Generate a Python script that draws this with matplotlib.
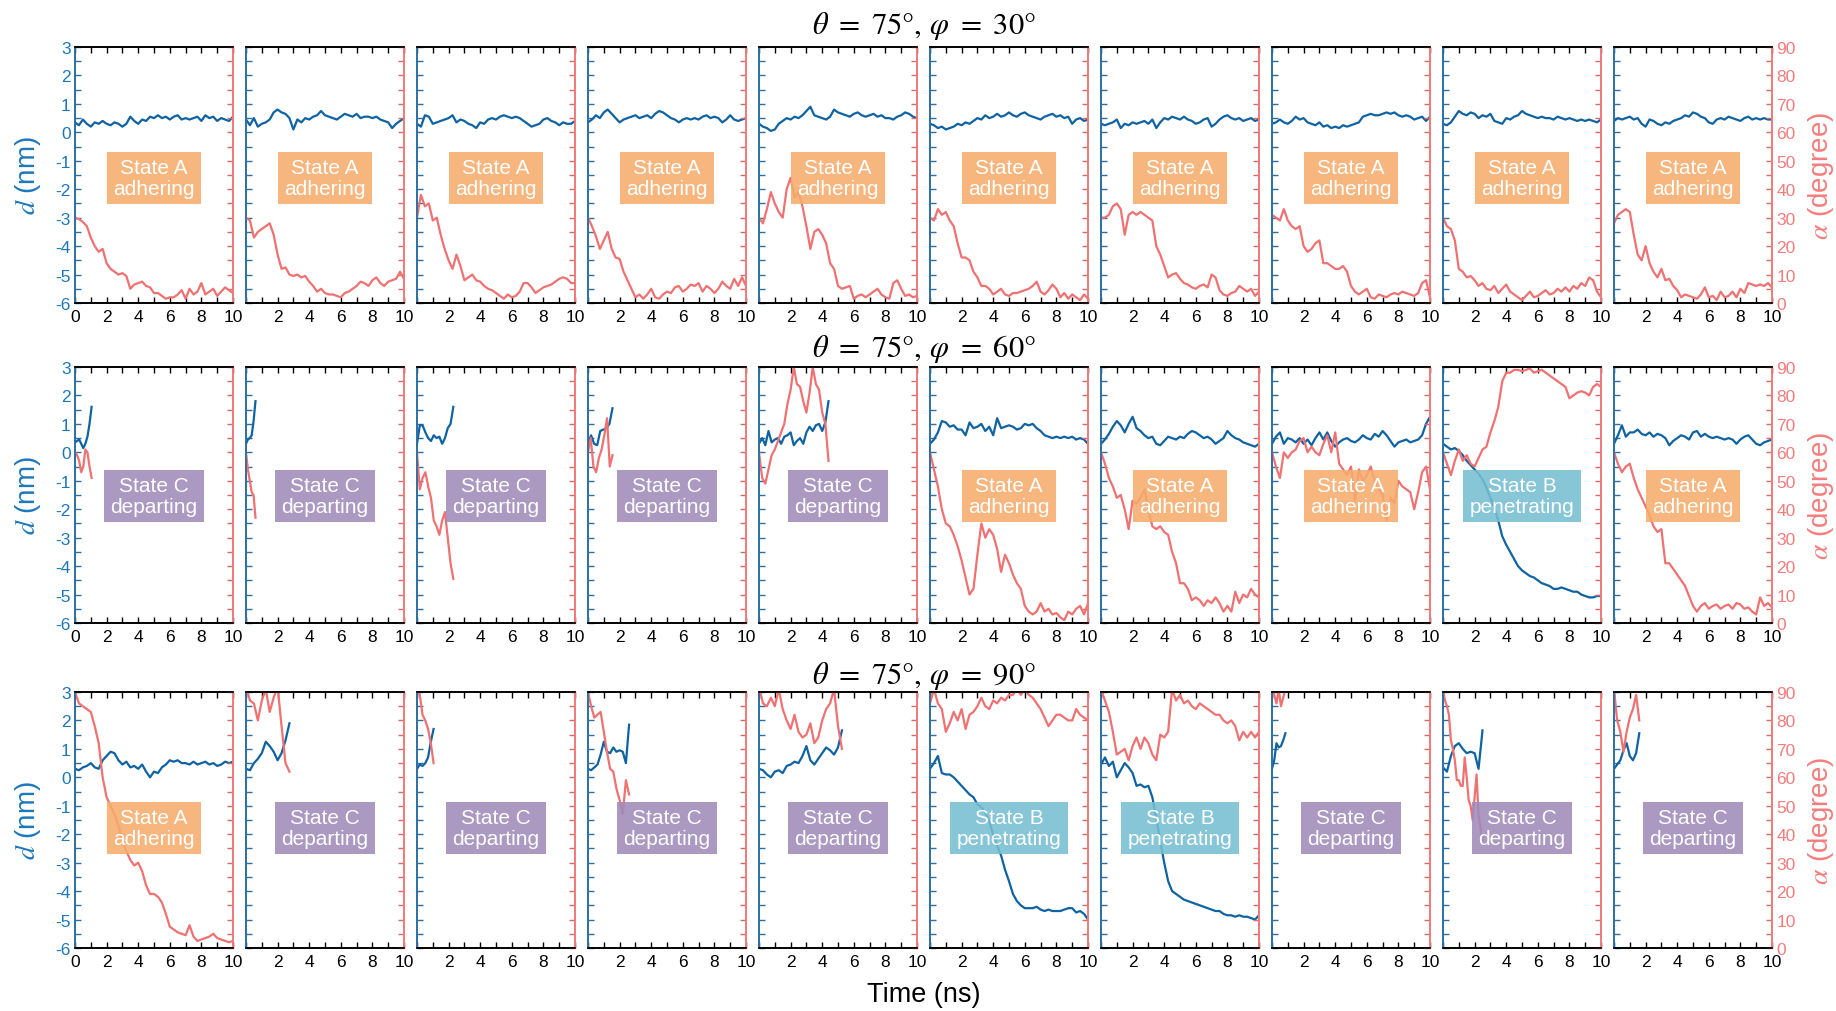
import numpy as np
import matplotlib.pyplot as plt
from matplotlib.ticker import MultipleLocator

plt.rcParams['font.family'] = ['Liberation Sans', 'DejaVu Sans']
plt.rcParams['mathtext.fontset'] = 'stix'
plt.rcParams['axes.unicode_minus'] = False

# ---------------- data ----------------
row_titles = [r'$\theta\ =\ 75°,\,\varphi\ =\ 30°$',
              r'$\theta\ =\ 75°,\,\varphi\ =\ 60°$',
              r'$\theta\ =\ 75°,\,\varphi\ =\ 90°$']

row1_state = ['A', 'A', 'A', 'A', 'A', 'A', 'A', 'A', 'A', 'A']
row2_state = ['C', 'C', 'C', 'C', 'C', 'A', 'A', 'A', 'B', 'A']
row3_state = ['A', 'C', 'C', 'C', 'C', 'B', 'B', 'C', 'C', 'C']

# simulation end time (ns) of each run
row1_tend = [10, 10, 10, 10, 10, 10, 10, 10, 10, 10]
row2_tend = [1.05, 0.6, 2.3, 1.55, 4.4, 10, 10, 10, 10, 10]
row3_tend = [10, 2.75, 1.05, 2.6, 5.25, 10, 10, 0.85, 2.5, 1.6]

# d (nm), evenly spaced over [0, tend]
row1_d = [
    [0.35, 0.25, 0.45, 0.3, 0.2, 0.35, 0.3, 0.4, 0.3, 0.25, 0.35, 0.3, 0.2, 0.3, 0.55, 0.4, 0.3, 0.45, 0.4, 0.55,
     0.5, 0.6, 0.5, 0.55, 0.45, 0.55, 0.6, 0.45, 0.5, 0.45, 0.5, 0.55, 0.4, 0.6, 0.5, 0.55, 0.4, 0.5, 0.45, 0.4, 0.55],
    [0.45, 0.25, 0.5, 0.2, 0.3, 0.35, 0.45, 0.7, 0.8, 0.7, 0.65, 0.5, 0.1, 0.45, 0.35, 0.5, 0.45, 0.55, 0.6, 0.75,
     0.6, 0.55, 0.5, 0.45, 0.55, 0.65, 0.6, 0.55, 0.65, 0.5, 0.55, 0.55, 0.5, 0.55, 0.45, 0.4, 0.35, 0.15, 0.3, 0.4, 0.5],
    [0.3, 0.2, 0.6, 0.55, 0.3, 0.35, 0.4, 0.45, 0.5, 0.6, 0.35, 0.45, 0.4, 0.3, 0.25, 0.15, 0.35, 0.3, 0.45, 0.5,
     0.45, 0.55, 0.6, 0.55, 0.5, 0.55, 0.5, 0.4, 0.3, 0.2, 0.25, 0.3, 0.45, 0.5, 0.4, 0.35, 0.25, 0.35, 0.3, 0.3, 0.4],
    [0.35, 0.45, 0.6, 0.5, 0.7, 0.8, 0.65, 0.5, 0.35, 0.45, 0.5, 0.55, 0.6, 0.5, 0.55, 0.6, 0.5, 0.65, 0.75, 0.7,
     0.6, 0.5, 0.45, 0.35, 0.45, 0.5, 0.45, 0.5, 0.45, 0.55, 0.6, 0.5, 0.55, 0.5, 0.35, 0.45, 0.6, 0.45, 0.4, 0.45, 0.5],
    [0.3, 0.2, 0.15, 0.05, 0.1, 0.3, 0.4, 0.5, 0.45, 0.55, 0.5, 0.6, 0.75, 0.9, 0.6, 0.55, 0.5, 0.45, 0.55, 0.8,
     0.7, 0.65, 0.6, 0.55, 0.65, 0.7, 0.6, 0.55, 0.6, 0.65, 0.55, 0.6, 0.5, 0.5, 0.45, 0.55, 0.6, 0.7, 0.65, 0.55, 0.5],
    [0.3, 0.25, 0.15, 0.2, 0.1, 0.15, 0.2, 0.3, 0.25, 0.35, 0.3, 0.4, 0.5, 0.45, 0.6, 0.5, 0.55, 0.65, 0.55, 0.6,
     0.7, 0.6, 0.55, 0.65, 0.7, 0.6, 0.55, 0.5, 0.45, 0.55, 0.6, 0.65, 0.55, 0.6, 0.5, 0.55, 0.3, 0.45, 0.5, 0.4, 0.45],
    [0.3, 0.25, 0.3, 0.35, 0.45, 0.15, 0.3, 0.25, 0.35, 0.3, 0.35, 0.4, 0.3, 0.45, 0.15, 0.35, 0.5, 0.45, 0.55, 0.5,
     0.45, 0.55, 0.45, 0.4, 0.3, 0.35, 0.45, 0.5, 0.2, 0.3, 0.45, 0.55, 0.6, 0.5, 0.45, 0.5, 0.4, 0.45, 0.5, 0.4, 0.45],
    [0.3, 0.35, 0.45, 0.35, 0.3, 0.4, 0.55, 0.45, 0.5, 0.35, 0.3, 0.25, 0.35, 0.2, 0.25, 0.15, 0.2, 0.15, 0.25, 0.2,
     0.25, 0.3, 0.35, 0.55, 0.6, 0.65, 0.6, 0.6, 0.65, 0.7, 0.65, 0.7, 0.6, 0.55, 0.6, 0.55, 0.45, 0.5, 0.55, 0.4, 0.55],
    [0.3, 0.25, 0.35, 0.55, 0.75, 0.65, 0.6, 0.7, 0.65, 0.5, 0.6, 0.55, 0.65, 0.4, 0.35, 0.3, 0.5, 0.45, 0.55, 0.6,
     0.75, 0.65, 0.6, 0.55, 0.5, 0.55, 0.5, 0.5, 0.45, 0.55, 0.5, 0.45, 0.5, 0.45, 0.4, 0.45, 0.4, 0.45, 0.4, 0.35, 0.45],
    [0.4, 0.5, 0.45, 0.5, 0.55, 0.45, 0.5, 0.3, 0.2, 0.45, 0.4, 0.3, 0.25, 0.35, 0.3, 0.4, 0.45, 0.5, 0.6, 0.55,
     0.7, 0.65, 0.55, 0.5, 0.35, 0.3, 0.45, 0.5, 0.45, 0.55, 0.5, 0.45, 0.4, 0.5, 0.55, 0.45, 0.5, 0.45, 0.5, 0.45, 0.45],
]
row2_d = [
    [0.35, 0.4, 0.45, 0.3, 0.15, 0.3, 0.55, 1.0, 1.6],
    [0.3, 0.45, 0.5, 0.6, 1.1, 1.8],
    [0.3, 0.95, 0.95, 0.7, 0.5, 0.4, 0.6, 0.5, 0.55, 0.3, 0.5, 0.85, 1.0, 1.6],
    [0.3, 0.6, 0.3, 0.25, 0.75, 0.8, 0.85, 1.0, 1.55],
    [0.3, 0.5, 0.25, 0.75, 0.35, 0.45, 0.5, 0.3, 0.55, 0.6, 0.7, 0.25, 0.4, 0.5, 0.3, 0.7, 0.9, 0.75, 0.95, 1.0,
     0.75, 1.05, 1.8],
    [0.3, 0.45, 0.7, 1.1, 1.05, 0.9, 0.95, 0.8, 0.8, 0.6, 1.05, 0.85, 0.9, 1.0, 0.75, 0.9, 0.6, 1.2, 0.85, 0.9,
     0.95, 0.9, 0.8, 0.85, 1.0, 0.95, 1.0, 0.85, 0.75, 0.6, 0.55, 0.5, 0.55, 0.5, 0.55, 0.5, 0.55, 0.45, 0.5, 0.45, 0.3],
    [0.3, 0.45, 0.65, 0.9, 1.1, 0.95, 0.7, 1.0, 1.25, 0.85, 0.75, 0.6, 0.5, 0.55, 0.3, 0.25, 0.4, 0.55, 0.5, 0.45,
     0.55, 0.5, 0.65, 0.75, 0.7, 0.6, 0.5, 0.55, 0.45, 0.3, 0.4, 0.5, 0.75, 0.6, 0.5, 0.45, 0.35, 0.3, 0.25, 0.2, 0.3],
    [0.3, 0.55, 0.7, 0.3, 0.5, 0.45, 0.35, 0.5, 0.3, 0.45, 0.25, 0.5, 0.7, 0.45, 0.7, 0.4, 0.2, 0.35, 0.45, 0.5,
     0.4, 0.35, 0.45, 0.6, 0.5, 0.45, 0.65, 0.55, 0.75, 0.6, 0.4, 0.2, 0.35, 0.4, 0.45, 0.35, 0.4, 0.45, 0.6, 1.0, 1.25],
    [0.3, 0.2, 0.1, 0.15, 0.05, -0.1, -0.3, -0.45, -0.6, -0.75, -0.95, -1.25, -1.6, -1.95, -2.4, -2.95, -3.25, -3.5,
     -3.75, -4.0, -4.15, -4.25, -4.35, -4.4, -4.5, -4.6, -4.65, -4.7, -4.8, -4.8, -4.75, -4.8, -4.85, -4.9, -4.9,
     -5.0, -5.05, -5.1, -5.1, -5.05, -5.05],
    [0.3, 0.6, 0.95, 0.55, 0.7, 0.7, 0.8, 0.65, 0.6, 0.7, 0.55, 0.65, 0.6, 0.5, 0.25, 0.4, 0.5, 0.6, 0.55, 0.45,
     0.7, 0.75, 0.55, 0.65, 0.55, 0.5, 0.55, 0.5, 0.45, 0.5, 0.45, 0.3, 0.45, 0.55, 0.6, 0.45, 0.3, 0.25, 0.35, 0.4, 0.45],
]
row3_d = [
    [0.3, 0.25, 0.35, 0.4, 0.5, 0.35, 0.3, 0.6, 0.75, 0.9, 0.85, 0.6, 0.45, 0.55, 0.35, 0.4, 0.3, 0.45, 0.2, 0.0,
     0.2, 0.15, 0.35, 0.45, 0.6, 0.55, 0.6, 0.5, 0.5, 0.45, 0.55, 0.45, 0.5, 0.55, 0.45, 0.5, 0.4, 0.45, 0.55, 0.5, 0.55],
    [0.3, 0.25, 0.5, 0.65, 0.85, 1.25, 1.1, 0.9, 0.6, 0.85, 1.3, 1.9],
    [0.3, 0.45, 0.4, 0.5, 0.7, 1.25, 1.7],
    [0.3, 0.25, 0.35, 0.45, 0.8, 1.25, 0.9, 0.85, 1.05, 0.9, 0.95, 0.9, 0.5, 1.85],
    [0.3, 0.25, 0.1, 0.0, 0.2, 0.25, 0.15, 0.4, 0.45, 0.55, 0.5, 0.75, 1.1, 0.6, 0.45, 0.65, 0.85, 1.05, 0.95, 0.8,
     1.05, 1.65],
    [0.3, 0.5, 0.75, 0.15, 0.1, 0.1, 0.0, -0.15, -0.3, -0.45, -0.6, -0.7, -0.95, -1.05, -1.25, -1.55, -2.0, -2.4,
     -2.75, -3.25, -3.65, -4.1, -4.35, -4.5, -4.6, -4.6, -4.6, -4.55, -4.65, -4.7, -4.65, -4.7, -4.7, -4.7, -4.65,
     -4.6, -4.6, -4.75, -4.7, -4.8, -5.0],
    [0.45, 0.7, 0.4, 0.55, 0.0, 0.25, 0.5, 0.35, 0.15, -0.3, -0.25, -0.35, -0.3, -0.7, -1.45, -2.25, -3.0, -3.65,
     -4.0, -4.1, -4.2, -4.3, -4.35, -4.4, -4.45, -4.5, -4.55, -4.6, -4.65, -4.7, -4.7, -4.8, -4.85, -4.85, -4.9,
     -4.85, -4.9, -4.9, -4.95, -5.0, -4.85],
    [0.3, 0.6, 1.2, 1.05, 1.1, 1.3, 1.55],
    [0.35, 0.2, 0.75, 1.1, 1.2, 1.0, 0.85, 0.9, 0.85, 0.3, 1.65],
    [0.3, 0.45, 0.6, 0.95, 1.2, 0.75, 0.6, 0.85, 1.55],
]

# alpha (degree), evenly spaced over [0, tend]
row1_a = [
    [30, 29.5, 28.5, 27, 23, 20, 18, 19, 14, 12, 11, 10, 10.5, 9.5, 5, 6.5, 7, 7.5, 6, 5.5,
     3.5, 3.5, 2.5, 1.5, 2, 2, 3, 4.5, 1.5, 5, 3, 4, 7, 3, 4, 5, 2.5, 4, 5.5, 4.5, 3.5],
    [30, 29, 23, 25, 26, 27, 28, 24, 17, 12, 12.5, 10, 9.5, 10, 9, 9.5, 7.5, 6, 4, 5,
     3.5, 3, 3, 2.5, 2, 3.5, 4, 5, 6, 7.5, 7, 6, 8, 9, 7, 6, 7.5, 8, 8.5, 11, 8.5],
    [30, 38, 34, 35, 29, 30, 24, 19, 15, 12, 17, 13, 8, 9, 10, 8, 7.5, 6, 5, 4.5,
     3.5, 2.5, 1.5, 3, 2, 2.5, 4, 7, 7, 5.5, 3.5, 4.5, 5.5, 6, 6.5, 7.5, 8.5, 9, 8.5, 7, 7],
    [30, 27, 23.5, 19, 22, 25, 19, 16, 15.5, 11, 8, 5, 2, 3, 1.5, 3, 5, 2, 1.5, 3,
     4, 3.5, 5.5, 6, 4, 5, 6.5, 6, 7, 4, 6, 5, 3.5, 5, 7.5, 6, 5, 8.5, 6, 9, 6],
    [30, 28, 33, 39, 35, 32, 30, 40, 44, 37, 39, 34, 27, 19, 25, 26, 24, 21, 14, 12,
     6, 5, 5.5, 6, 1.5, 2.5, 3, 2, 3, 4, 5, 3, 2, 1.5, 7, 8, 5, 2.5, 3, 2, 2.5],
    [30, 29, 33, 31, 32, 29, 27, 21, 16, 16, 15, 11, 9, 6, 6, 5, 3, 4, 5, 3,
     2.5, 3.5, 3.5, 4, 4.5, 5, 6, 7.5, 4, 3, 4.5, 6.5, 5, 2, 3.5, 1.5, 3, 2, 1, 3, 1.5],
    [30, 30, 31, 34, 35, 33, 24, 31, 32, 31, 32, 31, 30, 29, 20, 17, 13, 9, 10, 10.5,
     8.5, 7, 6.5, 5.5, 5, 6, 6.5, 5.5, 10, 9, 4.5, 3, 2.5, 3.5, 4, 6, 5, 4, 5, 2.5, 4],
    [31, 30, 29, 33, 29, 27, 26, 27, 20, 18, 19, 21, 22, 14, 14, 13, 12, 12, 13, 11,
     6, 4, 3, 4, 5, 2, 1.5, 3, 2.5, 2, 3, 3.5, 3, 4, 3.5, 3, 2.5, 3.5, 7, 8, 2],
    [30, 27, 26, 22, 12, 11, 9, 9.5, 8, 6, 7, 5, 4.5, 6, 3.5, 5, 6.5, 4, 3, 2,
     1, 2.5, 4, 2, 2.5, 3.5, 4.5, 3, 3.5, 5, 4, 5.5, 4, 6, 5, 7, 6, 9, 8, 4, 2],
    [28, 31, 32, 33, 32, 24, 17, 15, 20, 14, 11, 9, 12, 8, 8.5, 6, 4.5, 2, 3, 2.5,
     2, 1.5, 3, 5.5, 2, 2.5, 1, 4, 2, 2.5, 4, 2, 5, 3.5, 7, 6.5, 6, 6.5, 6, 7, 5.5],
]
row2_a = [
    [60, 59, 57, 53, 55, 61, 60, 55, 51],
    [60, 54, 50, 46, 45, 37],
    [60, 47, 51, 53, 48, 44, 36, 34, 31, 36, 39, 30, 21, 15.5],
    [60, 65, 55, 53, 58, 61, 66, 72, 55, 59],
    [60, 51, 49, 54, 59, 61, 64, 67, 70, 77, 82, 90, 84, 83, 78, 74, 81, 90, 84, 82, 74, 70, 57],
    [60, 54, 48, 40, 35, 34, 31, 27, 22, 16, 10, 12, 24, 35, 30, 33, 31, 26, 18, 24,
     21, 17, 14, 12, 6, 4, 3, 4, 7, 4, 5, 3, 3.5, 2, 1, 4, 3, 5, 6, 3, 7],
    [60, 56, 51, 48, 44, 45, 40, 33, 43, 42, 44, 47, 40, 34, 33, 34, 32, 31, 25, 21,
     14, 14, 12, 8, 9, 8, 6, 8, 7, 9, 7, 4, 6, 4, 11, 7, 10, 9, 12, 10, 9],
    [60, 55, 51, 60, 58, 60, 61, 64, 65, 60, 62, 60, 59, 63, 66, 60, 67, 56, 54, 52,
     55, 43, 54, 50, 52, 55, 50, 47, 45, 36, 44, 42, 50, 48, 47, 46, 40, 46, 53, 55, 47],
    [60, 56, 52, 57, 61, 57, 59, 56, 55, 58, 61, 62, 67, 71, 76, 85, 88, 88, 89, 89,
     88.5, 89, 89.5, 88, 88.5, 89, 88, 87, 86, 85, 84, 83, 79, 80, 81, 81.5, 81, 80, 83, 84, 83],
    [60, 56, 53, 55, 56, 51, 47, 44, 41, 38, 34, 32, 33, 21, 21, 19, 17, 15, 13, 9.5,
     6, 4, 6, 7, 5, 6, 6.5, 5, 6, 6.5, 5, 7, 6.5, 5, 5.5, 4, 3, 9, 6, 7, 5.5],
]
row3_a = [
    [90, 86, 85, 84, 83, 78, 72, 60, 53, 50, 47, 43, 38, 34, 31, 29, 30, 27, 22, 19,
     19, 18, 16, 12, 7.5, 6.5, 5.5, 5, 4.5, 8, 4, 2.5, 3, 3.5, 4, 5, 3.5, 3, 2.5, 2, 2.5],
    [92, 87, 86, 80, 87, 91, 83, 88, 92, 78, 65, 62],
    [91, 89, 82, 80, 77, 72, 65],
    [90, 85, 81, 82, 83, 76, 69, 63, 62, 56, 52, 47, 59, 54],
    [92, 86, 85, 88, 85, 91, 84, 80, 77, 82, 76, 74, 75, 79, 72, 74, 80, 84, 86, 91, 78, 70],
    [86, 91, 86, 84, 76, 79, 83, 80, 84, 77, 82, 83, 85, 88, 85, 84, 87, 86, 88, 87,
     89, 89, 91, 89, 91, 89, 88, 86, 84, 81, 78, 80, 82, 82, 81, 80, 80, 84, 82, 81, 80],
    [91, 87, 83, 76, 68, 69, 70, 66, 71, 74, 70, 74, 72, 68, 66, 75, 74, 76, 91, 87,
     89, 86, 87, 85, 84, 86, 85, 84, 83, 82, 82, 80, 79, 80, 78, 73, 76, 74, 76, 74, 76],
    [92, 89, 86, 91, 85, 88, 91],
    [91, 87, 85, 82, 73, 70, 66, 59, 59, 57, 57, 67, 60, 52, 50, 45, 53, 61, 47, 42, 38],
    [91, 80, 76, 69, 76, 81, 84, 89, 80],
]

row_d = [row1_d, row2_d, row3_d]
row_a = [row1_a, row2_a, row3_a]
row_tend = [row1_tend, row2_tend, row3_tend]
row_state = [row1_state, row2_state, row3_state]

# ---------------- style ----------------
blue_line = '#0F63A2'
red_line = '#F07171'
blue_txt = '#1C78BC'
red_txt = '#F47C7C'
state_style = {'A': ('State A\nadhering', '#F5AC6C'),
               'B': ('State B\npenetrating', '#75BFD2'),
               'C': ('State C\ndeparting', '#A08BBA')}

W, H = 1836, 1012
fig = plt.figure(figsize=(W / 100, H / 100), dpi=100)

row_tops = [48, 368, 693]
box_y = [0.488, 0.496, 0.469]
title_y = [26, 349, 676]
panel_w, panel_h, pitch, left0 = 158, 256, 171, 75

for r in range(3):
    for i in range(10):
        x0 = left0 + i * pitch
        ax = fig.add_axes([x0 / W, 1 - (row_tops[r] + panel_h) / H, panel_w / W, panel_h / H])
        ax2 = ax.twinx()

        d_vals = row_d[r][i]
        a_vals = row_a[r][i]
        tend = row_tend[r][i]
        ax.plot(np.linspace(0, tend, len(d_vals)), d_vals, color=blue_line, lw=1.6)
        ax2.plot(np.linspace(0, tend, len(a_vals)), a_vals, color=red_line, lw=1.6)

        ax.set_xlim(0, 10)
        ax.set_ylim(-6, 3)
        ax2.set_ylim(0, 90)

        ax.set_xticks(range(0, 11, 2))
        ax.set_xticklabels([('' if (v == 0 and i > 0) else str(v)) for v in range(0, 11, 2)])
        ax.xaxis.set_minor_locator(MultipleLocator(1))
        ax.yaxis.set_major_locator(MultipleLocator(1))
        ax.yaxis.set_minor_locator(MultipleLocator(0.5))
        ax2.yaxis.set_major_locator(MultipleLocator(10))
        ax2.yaxis.set_minor_locator(MultipleLocator(5))

        ax.tick_params(axis='x', which='both', direction='in', top=True, bottom=True,
                       length=4, width=1, color='black', labelsize=12.5, pad=4.5)
        ax.tick_params(axis='y', which='both', direction='in', left=True, right=False,
                       length=4, width=1, color='#2F6E9E', labelcolor=blue_txt, labelsize=12.5, pad=3,
                       labelleft=(i == 0))
        ax2.tick_params(axis='y', which='both', direction='in', right=True,
                        length=4, width=1, color='#D96A6A', labelcolor=red_txt, labelsize=12.5, pad=3,
                        labelright=(i == 9))

        for a in (ax, ax2):
            a.spines['top'].set_color('black')
            a.spines['bottom'].set_color('black')
            a.spines['left'].set_color('#2C6EA3')
            a.spines['right'].set_color('#F07A7A')
            for s in a.spines.values():
                s.set_linewidth(1.2)

        label, fc = state_style[row_state[r][i]]
        ax2.text(0.5, box_y[r], label, transform=ax.transAxes, ha='center', va='center',
                 fontsize=15, color='white', linespacing=1.15, zorder=10,
                 bbox=dict(boxstyle='square,pad=0.3', facecolor=fc, edgecolor='none', alpha=0.88))

    yc = 1 - (row_tops[r] + panel_h / 2) / H
    fig.text(28 / W, yc, r'$d$ (nm)', rotation=90, ha='center', va='center', fontsize=20, color=blue_txt)
    fig.text(1821 / W, yc, r'$\alpha$ (degree)', rotation=90, ha='center', va='center', fontsize=20, color=red_txt)
    fig.text(923.5 / W, 1 - title_y[r] / H, row_titles[r], ha='center', va='center', fontsize=22, color='black')

fig.text(923.5 / W, 1 - 995 / H, 'Time (ns)', ha='center', va='center', fontsize=19.5, color='black')

plt.savefig('out.png', dpi=100)
